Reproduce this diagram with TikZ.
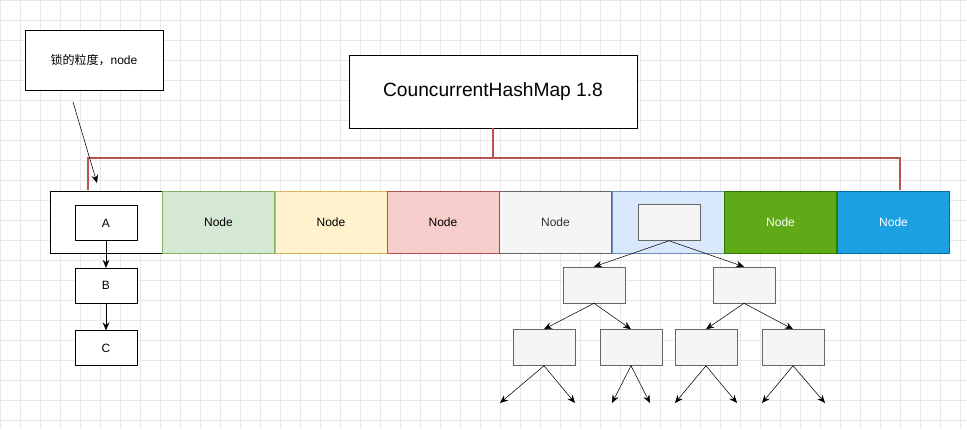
\documentclass[tikz,border=0pt]{standalone}
\usepackage{fontspec}
\setmainfont{Liberation Sans}
\newfontfamily\cjk{Noto Sans CJK SC}
\usetikzlibrary{arrows.meta}
\definecolor{gridc}{HTML}{E8E8E8}
\definecolor{redl}{HTML}{B85450}
\definecolor{grnd}{HTML}{82B366}\definecolor{grnf}{HTML}{D5E8D4}
\definecolor{ylwd}{HTML}{D6B656}\definecolor{ylwf}{HTML}{FFF2CC}
\definecolor{redf}{HTML}{F8CECC}
\definecolor{gryd}{HTML}{666666}\definecolor{gryf}{HTML}{F5F5F5}\definecolor{gryt}{HTML}{333333}
\definecolor{blud}{HTML}{6C8EBF}\definecolor{bluf}{HTML}{DAE8FC}
\definecolor{dgrd}{HTML}{2D7600}\definecolor{dgrf}{HTML}{60A917}
\definecolor{cyad}{HTML}{006EAF}\definecolor{cyaf}{HTML}{1BA1E2}
\tikzset{
  box/.style={draw=black,fill=white,minimum width=46.5pt,minimum height=26pt,inner sep=0pt,font=\small},
  cell/.style={draw=#1,minimum width=84pt,minimum height=46.5pt,inner sep=0pt,font=\small},
  tbox/.style={draw=gray!80!black,fill=gryf,minimum width=46.5pt,minimum height=27pt,inner sep=0pt},
  arr/.style={-{Stealth[length=6pt,width=5pt]},black},
  link/.style={redl,line width=1.5pt}
}
\begin{document}
\begin{tikzpicture}[x=0.75pt,y=-0.75pt]
    \useasboundingbox (0,0) rectangle (967,429);
    \fill[white] (0,0) rectangle (967,429);
    \foreach \i in {0,20,...,960} \draw[gridc,line width=0.3pt] (\i,0) -- (\i,429);
    \foreach \j in {0,20,...,420} \draw[gridc,line width=0.3pt] (0,\j) -- (967,\j);
    % callout and title
    \node[box,minimum width=103.5pt,minimum height=45pt] (lock) at (94,60) {\cjk 锁的粒度，\rmfamily node};
    \node[box,minimum width=216pt,minimum height=55pt,font=\Large] (title) at (493,91.5) {CouncurrentHashMap 1.8};
    % bucket array
    \node[cell=black,fill=white] (c0) at (106,222) {};
    \node[cell=grnd,fill=grnf] (c1) at (218.5,222) {Node};
    \node[cell=ylwd,fill=ylwf] (c2) at (331,222) {Node};
    \node[cell=redl,fill=redf] (c3) at (443,222) {Node};
    \node[cell=gryd,fill=gryf,text=gryt] (c4) at (555.5,222) {Node};
    \node[cell=blud,fill=bluf] (c5) at (668,222) {};
    \node[cell=dgrd,fill=dgrf,text=white] (c6) at (780.5,222) {Node};
    \node[cell=cyad,fill=cyaf,text=white] (c7) at (893.5,222) {Node};
    % lock lines
    \coordinate (j0) at (493,158);
    \draw[link] (title.south) -- (j0);
    \draw[link] (88,190) -- (88,158) -- (900,158) -- (900,190);
    \draw[arr] (73,102) -- (97,183);
    % chain
    \node[box] (a) at (106,223) {A};
    \node[box] (b) at (106,285.5) {B};
    \node[box] (c) at (106,348) {C};
    \draw[arr] (a) -- (b);
    \draw[arr] (b) -- (c);
    % tree
    \node[tbox] (root) at (669,222.5) {};
    \node[tbox] (l1) at (594,285) {};
    \node[tbox] (r1) at (744,285) {};
    \node[tbox] (l2) at (544,347.5) {};
    \node[tbox] (l3) at (631,347.5) {};
    \node[tbox] (r2) at (706,347.5) {};
    \node[tbox] (r3) at (793,347.5) {};
    \draw[arr] (root.south) -- (l1.north);
    \draw[arr] (root.south) -- (r1.north);
    \draw[arr] (l1.south) -- (l2.north);
    \draw[arr] (l1.south) -- (l3.north);
    \draw[arr] (r1.south) -- (r2.north);
    \draw[arr] (r1.south) -- (r3.north);
    \foreach \n/\p/\q in {l2/500/575,l3/612/650,r2/675/737,r3/762/825} {
      \coordinate (\n-a) at (\p,403);
      \coordinate (\n-b) at (\q,403);
      \draw[arr] (\n.south) -- (\n-a);
      \draw[arr] (\n.south) -- (\n-b);
    }
\end{tikzpicture}
\end{document}
